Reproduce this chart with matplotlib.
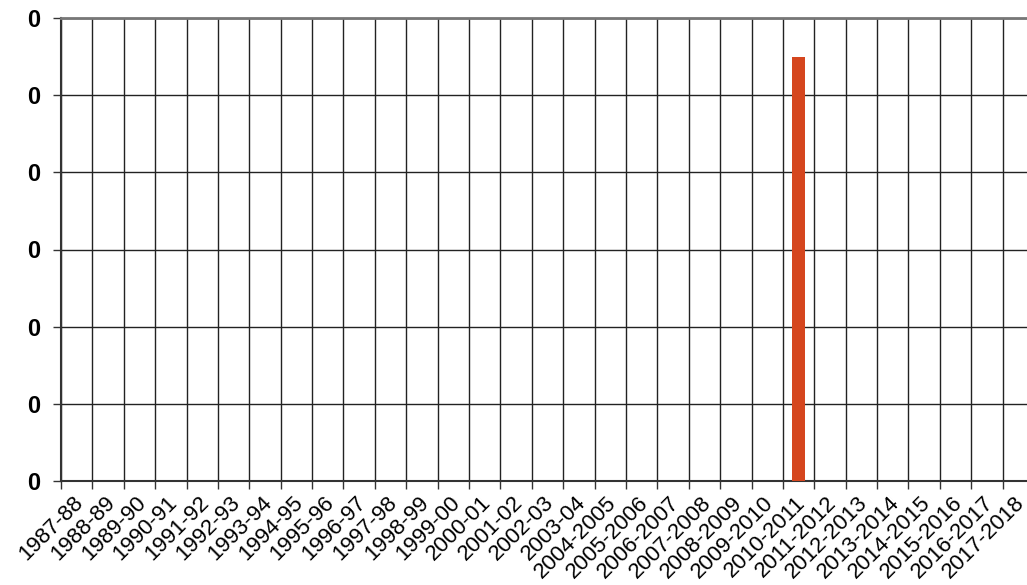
import numpy as np
import matplotlib
matplotlib.use('Agg')
import matplotlib.pyplot as plt
from matplotlib import font_manager
from matplotlib.ticker import FormatStrFormatter
from matplotlib.transforms import ScaledTranslation

seasons = ['1987-88', '1988-89', '1989-90', '1990-91', '1991-92', '1992-93',
           '1993-94', '1994-95', '1995-96', '1996-97', '1997-98', '1998-99',
           '1999-00', '2000-01', '2001-02', '2002-03', '2003-04',
           '2004-2005', '2005-2006', '2006-2007', '2007-2008', '2008-2009',
           '2009-2010', '2010-2011', '2011-2012', '2012-2013', '2013-2014',
           '2014-2015', '2015-2016', '2016-2017', '2017-2018']
values = [0] * 31
values[23] = 0.0011
y_ticks = [0, 0.0002, 0.0004, 0.0006, 0.0008, 0.001, 0.0012]

plt.rcParams['font.family'] = ['Liberation Sans', 'DejaVu Sans']
fp_reg = font_manager.FontProperties(family=['Liberation Sans', 'DejaVu Sans'], size=16)
fp_bold = font_manager.FontProperties(family=['Liberation Sans', 'DejaVu Sans'],
                                      weight='bold', size=17)

fig = plt.figure(figsize=(10.27, 5.85), dpi=100)
ax = fig.add_axes([61/1027, 104/585, 973/1027, 463/585])

x = np.arange(len(seasons))
ax.bar(x, values, width=0.42, color='#d5461e', zorder=3)

ax.set_xlim(-0.5, len(seasons) - 0.5)
ax.set_ylim(y_ticks[0], y_ticks[-1])

# boundaries carry the ticks and vertical grid, labels sit at centres
ax.set_xticks(np.append(x - 0.5, x[-1] + 0.5))
ax.set_xticklabels([])
ax.set_xticks(x, seasons, minor=True)
ax.tick_params(axis='x', which='major', length=6, width=1, color='#333333')
ax.tick_params(axis='x', which='minor', length=0, pad=8)
shift = ScaledTranslation(-4/100, 0, fig.dpi_scale_trans)
for lbl in ax.get_xticklabels(minor=True):
    lbl.set_fontproperties(fp_reg)
    lbl.set_rotation(45)
    lbl.set_ha('right')
    lbl.set_va('top')
    lbl.set_rotation_mode('anchor')
    lbl.set_transform(lbl.get_transform() + shift)

ax.set_yticks(y_ticks)
ax.yaxis.set_major_formatter(FormatStrFormatter('%.0f'))
ax.tick_params(axis='y', length=6, width=1, color='#333333', pad=9)
for lbl in ax.get_yticklabels():
    lbl.set_fontproperties(fp_bold)

ax.grid(True, which='major', color='#222222', linewidth=1, zorder=0)
for s in ['left', 'bottom']:
    ax.spines[s].set_color('#333333')
    ax.spines[s].set_linewidth(1.5)
ax.spines['top'].set_color('#777777')
ax.spines['top'].set_linewidth(2)
ax.spines['right'].set_visible(False)

fig.savefig('out.png', dpi=100)
